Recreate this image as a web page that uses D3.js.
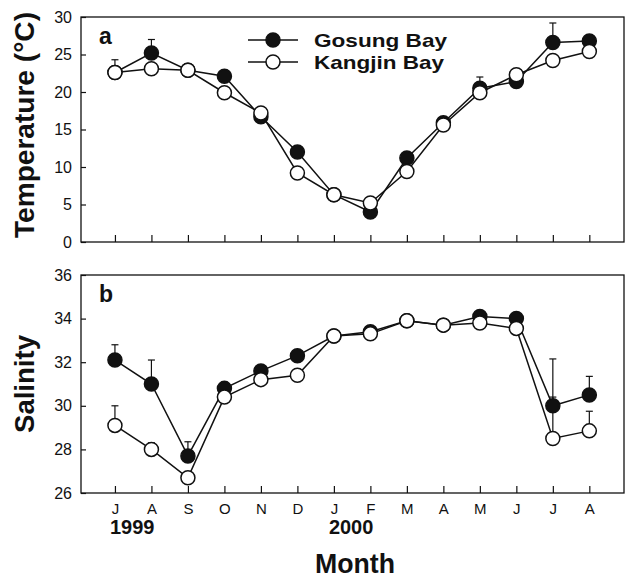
<!DOCTYPE html>
<html>
<head>
<meta charset="utf-8">
<script src="https://cdn.jsdelivr.net/npm/d3@7"></script>
<style>
    body { margin: 0; background: #fff; }
    text { font-family: "Liberation Sans", Arial, sans-serif; fill: #111; }
</style>
</head>
<body>
<svg id="chart" width="627" height="578"></svg>
<script>
"use strict"

// data
let months = ["J", "A", "S", "O", "N", "D", "J", "F", "M", "A", "M", "J", "J", "A"];
let years = [{ at: 0, label: "1999" }, { at: 6, label: "2000" }];

let gosungTemp = [22.6, 25.2, 22.9, 22.1, 16.7, 12.0, 6.3, 4.0, 11.2, 15.9, 20.5, 21.4, 26.6, 26.8];
let kangjinTemp = [22.6, 23.1, 22.9, 19.9, 17.2, 9.2, 6.3, 5.2, 9.4, 15.6, 19.9, 22.3, 24.2, 25.4];
let gosungTempErr = [1.7, 1.8, null, null, null, null, null, null, null, null, 1.5, null, 2.6, null];
let kangjinTempErr = [null, null, null, null, null, null, null, null, null, null, null, null, null, null];

let gosungSal = [32.1, 31.0, 27.7, 30.8, 31.6, 32.3, 33.2, 33.4, 33.9, 33.7, 34.1, 34.0, 30.0, 30.5];
let kangjinSal = [29.1, 28.0, 26.7, 30.4, 31.2, 31.4, 33.2, 33.3, 33.9, 33.7, 33.8, 33.55, 28.5, 28.85];
let gosungSalErr = [0.7, 1.1, 0.65, null, null, null, null, null, null, null, null, null, 2.15, 0.85];
let kangjinSalErr = [0.9, 0.3, null, null, null, null, null, null, null, null, null, null, 1.9, 0.9];

let tempTicks = [0, 5, 10, 15, 20, 25, 30];
let salTicks = [26, 28, 30, 32, 34, 36];

let svg = d3.select("#chart");

let x = d3.scaleLinear()
    .domain([-0.93, 13.95])
    .range([81, 624]);

function panel(cfg) {
    let y = d3.scaleLinear().domain(cfg.domain).range([cfg.bottom, cfg.top]);
    let g = svg.append("g");

    // frame
    g.append("rect")
        .attr("x", x.range()[0]).attr("y", cfg.top)
        .attr("width", x.range()[1] - x.range()[0])
        .attr("height", cfg.bottom - cfg.top)
        .attr("fill", "none").attr("stroke", "#111").attr("stroke-width", 1.3);

    // y axis, ticks inward
    let yAxis = d3.axisLeft(y).tickValues(cfg.ticks).tickSizeInner(-5).tickSizeOuter(0).tickPadding(9);
    let ya = g.append("g").attr("transform", "translate(" + x.range()[0] + ",0)").call(yAxis);
    ya.select(".domain").remove();
    ya.selectAll("line").attr("stroke", "#111").attr("stroke-width", 1.2);
    ya.selectAll("text").attr("font-size", 16).attr("fill", "#111")
        .attr("font-family", "Liberation Sans, Arial, sans-serif");

    // x axis, ticks inward
    let xAxis = d3.axisBottom(x).tickValues(d3.range(months.length)).tickSizeInner(-7).tickSizeOuter(0)
        .tickFormat(function (d) { return cfg.labels ? months[d] : ""; }).tickPadding(10);
    let xa = g.append("g").attr("transform", "translate(0," + cfg.bottom + ")").call(xAxis);
    xa.select(".domain").remove();
    xa.selectAll("line").attr("stroke", "#111").attr("stroke-width", 1.2);
    xa.selectAll("text").attr("font-size", 15).attr("fill", "#111")
        .attr("font-family", "Liberation Sans, Arial, sans-serif");

    let line = d3.line()
        .x(function (d, i) { return x(i); })
        .y(function (d) { return y(d); });

    let series = [
        { values: cfg.gosung, err: cfg.gosungErr, fill: "#111" },
        { values: cfg.kangjin, err: cfg.kangjinErr, fill: "#fff" }
    ];

    series.forEach(function (s) {
        // upper error bars
        s.values.forEach(function (v, i) {
            if (s.err[i] == null) return;
            let top = y(v + s.err[i]);
            g.append("line")
                .attr("x1", x(i)).attr("x2", x(i))
                .attr("y1", y(v)).attr("y2", top)
                .attr("stroke", "#111").attr("stroke-width", 1.2);
            g.append("line")
                .attr("x1", x(i) - 3.5).attr("x2", x(i) + 3.5)
                .attr("y1", top).attr("y2", top)
                .attr("stroke", "#111").attr("stroke-width", 1.2);
        });
    });

    series.forEach(function (s) {
        g.append("path")
            .datum(s.values)
            .attr("d", line)
            .attr("fill", "none").attr("stroke", "#111").attr("stroke-width", 1.5);
    });

    series.forEach(function (s) {
        g.selectAll(null)
            .data(s.values)
            .enter().append("circle")
            .attr("cx", function (d, i) { return x(i); })
            .attr("cy", function (d) { return y(d); })
            .attr("r", 7)
            .attr("fill", s.fill)
            .attr("stroke", "#111").attr("stroke-width", 1.5);
    });

    g.append("text")
        .attr("x", 99).attr("y", cfg.top + 27)
        .attr("font-size", 23).attr("font-weight", "bold")
        .text(cfg.letter);

    // axis title
    g.append("text")
        .attr("transform", "translate(" + cfg.titleX + "," + cfg.titleY + ") rotate(-90)")
        .attr("text-anchor", "middle")
        .attr("font-size", 28).attr("font-weight", "bold")
        .attr("textLength", cfg.titleLen).attr("lengthAdjust", "spacingAndGlyphs")
        .text(cfg.title);

    return y;
}

panel({
    domain: [0, 30], top: 17, bottom: 242, ticks: tempTicks, labels: false,
    gosung: gosungTemp, kangjin: kangjinTemp, gosungErr: gosungTempErr, kangjinErr: kangjinTempErr,
    letter: "a", title: "Temperature (\u00b0C)", titleX: 34, titleY: 125, titleLen: 226
});

panel({
    domain: [26, 36], top: 275, bottom: 493, ticks: salTicks, labels: true,
    gosung: gosungSal, kangjin: kangjinSal, gosungErr: gosungSalErr, kangjinErr: kangjinSalErr,
    letter: "b", title: "Salinity", titleX: 34, titleY: 384, titleLen: 98
});

// year labels under the month ticks
svg.selectAll(".year")
    .data(years)
    .enter().append("text")
    .attr("class", "year")
    .attr("x", function (d) { return x(d.at) - 5; })
    .attr("y", 534)
    .attr("font-size", 20).attr("font-weight", "bold")
    .text(function (d) { return d.label; });

svg.append("text")
    .attr("x", 355).attr("y", 573)
    .attr("text-anchor", "middle")
    .attr("font-size", 27).attr("font-weight", "bold")
    .attr("textLength", 80).attr("lengthAdjust", "spacingAndGlyphs")
    .text("Month");

// legend
let legend = [
    { label: "Gosung Bay", fill: "#111", y: 40 },
    { label: "Kangjin Bay", fill: "#fff", y: 62 }
];

let lg = svg.selectAll(".legend")
    .data(legend)
    .enter().append("g")
    .attr("class", "legend")
    .attr("transform", function (d) { return "translate(0," + d.y + ")"; });

lg.append("line")
    .attr("x1", 248).attr("x2", 298)
    .attr("stroke", "#111").attr("stroke-width", 1.5);

lg.append("circle")
    .attr("cx", 273).attr("r", 7)
    .attr("fill", function (d) { return d.fill; })
    .attr("stroke", "#111").attr("stroke-width", 1.5);

lg.append("text")
    .attr("x", 314).attr("y", 7)
    .attr("font-size", 19).attr("font-weight", "bold")
    .attr("textLength", function (d, i) { return i == 0 ? 133 : 130; })
    .attr("lengthAdjust", "spacingAndGlyphs")
    .text(function (d) { return d.label; });
</script>
</body>
</html>
